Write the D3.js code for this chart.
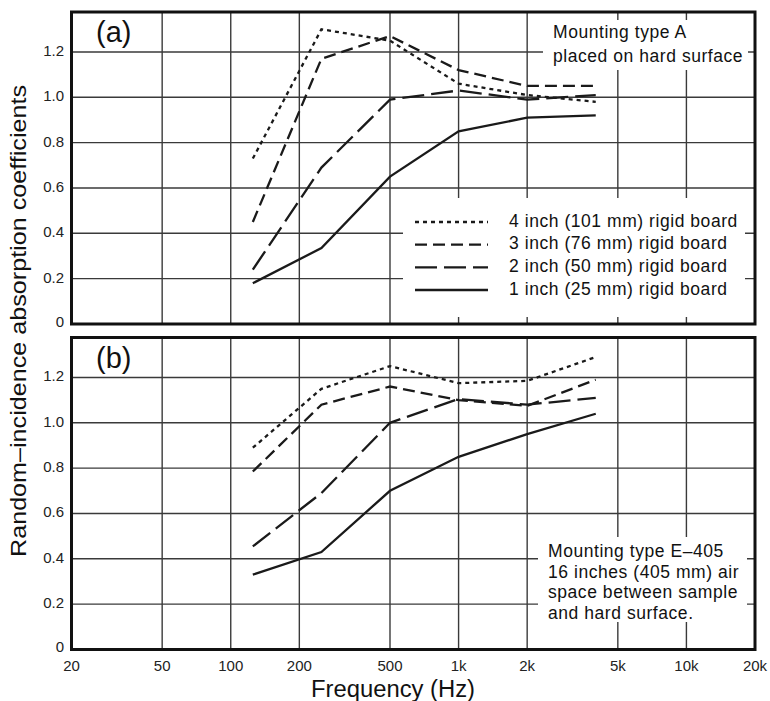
<!DOCTYPE html>
<html>
<head>
<meta charset="utf-8">
<script src="https://cdn.jsdelivr.net/npm/d3@7"></script>
<style>
  html, body { margin: 0; padding: 0; background: #fff; }
  svg { display: block; font-family: "Liberation Sans", Arial, Helvetica, sans-serif; }
</style>
</head>
<body>
<svg id="chart" width="770" height="701"></svg>
<script>
// ---- Data ----
const freqs = [125, 250, 500, 1000, 2000, 4000];
const seriesLabels = [
  "4 inch (101 mm) rigid board",
  "3 inch (76 mm) rigid board",
  "2 inch (50 mm) rigid board",
  "1 inch (25 mm) rigid board"
];
// Panel (a): Mounting type A
const panelA_4in = [0.73, 1.30, 1.25, 1.06, 1.01, 0.98];
const panelA_3in = [0.45, 1.17, 1.27, 1.12, 1.05, 1.05];
const panelA_2in = [0.24, 0.69, 0.99, 1.03, 0.99, 1.01];
const panelA_1in = [0.18, 0.335, 0.65, 0.85, 0.91, 0.92];
// Panel (b): Mounting type E-405
const panelB_4in = [0.89, 1.15, 1.25, 1.175, 1.185, 1.29];
const panelB_3in = [0.785, 1.08, 1.16, 1.10, 1.075, 1.19];
const panelB_2in = [0.455, 0.69, 1.00, 1.105, 1.08, 1.11];
const panelB_1in = [0.33, 0.43, 0.70, 0.85, 0.95, 1.04];

const xTicks = [20, 50, 100, 200, 500, 1000, 2000, 5000, 10000, 20000];
const xTickLabels = ["20", "50", "100", "200", "500", "1k", "2k", "5k", "10k", "20k"];
const yTicks = [0, 0.2, 0.4, 0.6, 0.8, 1.0, 1.2];
const yTickLabels = ["0", "0.2", "0.4", "0.6", "0.8", "1.0", "1.2"];

const panelLabels = ["(a)", "(b)"];
const notesA = ["Mounting type A", "placed on hard surface"];
const notesB = ["Mounting type E\u2013405", "16 inches (405 mm) air", "space between sample", "and hard surface."];
const xTitle = "Frequency (Hz)";
const yTitle = "Random\u2013incidence absorption coefficients";

// ---- Layout ----
const svg = d3.select("#chart");
const left = 71.5, right = 755;
const x = d3.scaleLog().domain([20, 20000]).range([left, right]);
const panels = [
  { top: 12, bottom: 324, series: [panelA_4in, panelA_3in, panelA_2in, panelA_1in], label: panelLabels[0], labelY: 42 },
  { top: 337.5, bottom: 649.5, series: [panelB_4in, panelB_3in, panelB_2in, panelB_1in], label: panelLabels[1], labelY: 367.5 }
];
const dashes = ["4,4", "12,6", "22,7", null];
const ink = "#1a1a1a";
const gridColor = "#3a3a3a";
const labelFont = "17.5px";
const labelSpacing = "0.55px";

panels.forEach((p, pi) => {
  const y = d3.scaleLinear().domain([0, 1.2]).range([p.bottom, p.bottom - 1.2 * 226.7]);
  const g = svg.append("g");

  // gridlines
  g.selectAll("line.vg").data(xTicks.slice(1, -1)).join("line")
    .attr("x1", d => x(d)).attr("x2", d => x(d))
    .attr("y1", p.top).attr("y2", p.bottom)
    .attr("stroke", gridColor).attr("stroke-width", 1.4);
  g.selectAll("line.hg").data(yTicks.slice(1)).join("line")
    .attr("x1", left).attr("x2", right)
    .attr("y1", d => y(d)).attr("y2", d => y(d))
    .attr("stroke", gridColor).attr("stroke-width", 1.4);

  // white note boxes
  if (pi === 0) {
    g.append("rect").attr("x", 543).attr("y", 20).attr("width", 205).attr("height", 50).attr("fill", "#fff");
    g.append("rect").attr("x", 403).attr("y", 198).attr("width", 342).attr("height", 119).attr("fill", "#fff");
  } else {
    g.append("rect").attr("x", 538).attr("y", 537).attr("width", 209).attr("height", 85).attr("fill", "#fff");
  }

  // data lines
  const line = d3.line().x((d, i) => x(freqs[i])).y(d => y(d));
  p.series.forEach((s, si) => {
    g.append("path").datum(s)
      .attr("d", line)
      .attr("fill", "none")
      .attr("stroke", ink)
      .attr("stroke-width", 2.3)
      .attr("stroke-dasharray", dashes[si]);
  });

  // frame
  g.append("rect").attr("x", left).attr("y", p.top)
    .attr("width", right - left).attr("height", p.bottom - p.top)
    .attr("fill", "none").attr("stroke", "#111").attr("stroke-width", 3);

  // y tick labels
  g.selectAll("text.yt").data(yTicks).join("text")
    .attr("x", 64).attr("y", (d, i) => y(d) + (i === 0 ? -1 : 0))
    .attr("text-anchor", "end").attr("dominant-baseline", "middle")
    .attr("font-size", "15px").attr("fill", "#222")
    .text((d, i) => yTickLabels[i]);

  // panel label
  g.append("text").attr("x", 96).attr("y", p.labelY)
    .attr("font-size", "29px").attr("fill", "#111").text(p.label);
});

// x tick labels (bottom panel only)
svg.append("g").selectAll("text").data(xTicks).join("text")
  .attr("x", d => x(d)).attr("y", 671)
  .attr("text-anchor", "middle")
  .attr("font-size", "15px").attr("fill", "#222")
  .text((d, i) => xTickLabels[i]);

// axis titles
svg.append("text").attr("x", 393).attr("y", 697)
  .attr("text-anchor", "middle").attr("font-size", "23px").attr("fill", "#111")
  .attr("textLength", 164).attr("lengthAdjust", "spacingAndGlyphs")
  .text(xTitle);
svg.append("text")
  .attr("transform", "translate(26,321) rotate(-90)")
  .attr("text-anchor", "middle").attr("font-size", "22px").attr("fill", "#111")
  .attr("textLength", 472).attr("lengthAdjust", "spacingAndGlyphs")
  .text(yTitle);

// notes
svg.append("g").selectAll("text").data(notesA).join("text")
  .attr("x", 553).attr("y", (d, i) => 38 + i * 24)
  .attr("font-size", labelFont).attr("letter-spacing", labelSpacing).attr("fill", "#111")
  .text(d => d);
svg.append("g").selectAll("text").data(notesB).join("text")
  .attr("x", 548).attr("y", (d, i) => 557 + i * 20.6)
  .attr("font-size", labelFont).attr("letter-spacing", labelSpacing).attr("fill", "#111")
  .text(d => d);

// legend
const legY = [222, 244.7, 267.4, 290];
const leg = svg.append("g");
seriesLabels.forEach((lab, i) => {
  leg.append("line").attr("x1", 415).attr("x2", 488)
    .attr("y1", legY[i]).attr("y2", legY[i])
    .attr("stroke", ink).attr("stroke-width", 2.3)
    .attr("stroke-dasharray", dashes[i]);
  leg.append("text").attr("x", 509).attr("y", legY[i])
    .attr("dominant-baseline", "middle")
    .attr("font-size", labelFont).attr("letter-spacing", labelSpacing).attr("fill", "#111")
    .text(lab);
});
</script>
</body>
</html>
